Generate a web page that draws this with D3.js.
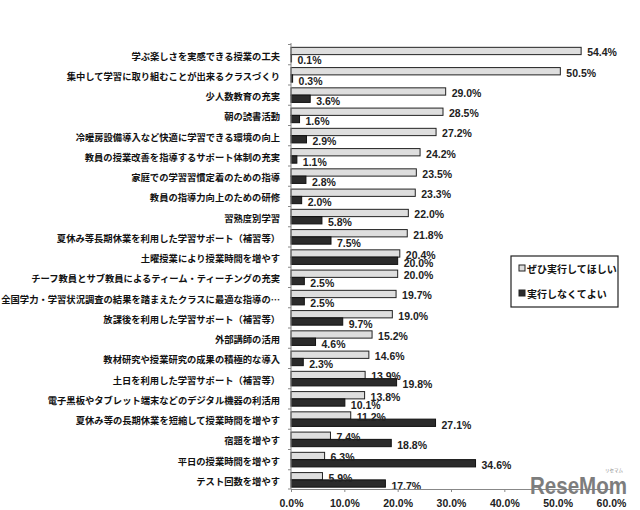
<!DOCTYPE html>
<html><head><meta charset="utf-8">
<script src="https://cdn.jsdelivr.net/npm/d3@7"></script>
<style>
body{margin:0;background:#fff;}
svg{display:block;}
</style></head>
<body>
<script>
const categories = [
  "学ぶ楽しさを実感できる授業の工夫",
  "集中して学習に取り組むことが出来るクラスづくり",
  "少人数教育の充実",
  "朝の読書活動",
  "冷暖房設備導入など快適に学習できる環境の向上",
  "教員の授業改善を指導するサポート体制の充実",
  "家庭での学習習慣定着のための指導",
  "教員の指導力向上のための研修",
  "習熟度別学習",
  "夏休み等長期休業を利用した学習サポート（補習等）",
  "土曜授業により授業時間を増やす",
  "チーフ教員とサブ教員によるティーム・ティーチングの充実",
  "全国学力・学習状況調査の結果を踏まえたクラスに最適な指導の…",
  "放課後を利用した学習サポート（補習等）",
  "外部講師の活用",
  "教材研究や授業研究の成果の積極的な導入",
  "土日を利用した学習サポート（補習等）",
  "電子黒板やタブレット端末などのデジタル機器の利活用",
  "夏休み等の長期休業を短縮して授業時間を増やす",
  "宿題を増やす",
  "平日の授業時間を増やす",
  "テスト回数を増やす"
];
const wantValues = [54.4,50.5,29.0,28.5,27.2,24.2,23.5,23.3,22.0,21.8,20.4,20.0,19.7,19.0,15.2,14.6,13.9,13.8,11.2,7.4,6.3,5.9];
const notNeededValues = [0.1,0.3,3.6,1.6,2.9,1.1,2.8,2.0,5.8,7.5,20.0,2.5,2.5,9.7,4.6,2.3,19.8,10.1,27.1,18.8,34.6,17.7];
const seriesNames = ["ぜひ実行してほしい","実行しなくてよい"];
const xTicks = [0,10,20,30,40,50,60];

const W = 640, H = 510;
const svg = d3.select("body").append("svg").attr("width", W).attr("height", H);

const x = d3.scaleLinear().domain([0,60]).range([291,611]);
const y = d3.scaleBand().domain(categories).range([44.5,490]).paddingInner(0.28).paddingOuter(0.14);
const bw = y.bandwidth();
const step = y.step();

const jp = "'Noto Sans CJK JP', 'Noto Sans', sans-serif";
const num = "'Liberation Sans', Arial, sans-serif";

// category labels
svg.append("g").selectAll("text").data(categories).join("text")
  .attr("x", 280).attr("y", d => y(d) + bw/2 + 1)
  .attr("text-anchor","end").attr("dominant-baseline","central")
  .attr("font-family", jp).attr("font-size", 9.3).attr("font-weight", 700)
  .attr("fill","#111").text(d => d);

// bars
const rows = categories.map((c,i) => ({c, a: wantValues[i], b: notNeededValues[i]}));
const g = svg.append("g");
g.selectAll("rect.a").data(rows).join("rect").attr("class","a")
  .attr("x", x(0)).attr("y", d => y(d.c)).attr("width", d => x(d.a)-x(0)).attr("height", bw/2)
  .attr("fill","#dedede").attr("stroke","#222").attr("stroke-width",1);
g.selectAll("rect.b").data(rows).join("rect").attr("class","b")
  .attr("x", x(0)).attr("y", d => y(d.c)+bw/2).attr("width", d => x(d.b)-x(0)).attr("height", bw/2)
  .attr("fill","#2b2b2b").attr("stroke","#111").attr("stroke-width",1);

// value labels
g.selectAll("text.a").data(rows).join("text").attr("class","a")
  .attr("x", d => x(d.a)+6).attr("y", d => y(d.c)+bw/4+1.5)
  .attr("dominant-baseline","central").attr("font-family",num).attr("font-size",10.5).attr("font-weight",700)
  .attr("fill","#222").text(d => d.a.toFixed(1)+"%");
g.selectAll("text.b").data(rows).join("text").attr("class","b")
  .attr("x", d => x(d.b)+6).attr("y", d => y(d.c)+bw*3/4+2)
  .attr("dominant-baseline","central").attr("font-family",num).attr("font-size",10.5).attr("font-weight",700)
  .attr("fill","#222").text(d => d.b.toFixed(1)+"%");

// y axis line and ticks
const yTop = 43, yBot = 489;
svg.append("line").attr("x1",x(0)).attr("x2",x(0)).attr("y1",yTop).attr("y2",yBot).attr("stroke","#888").attr("stroke-width",1);
const bounds = categories.map(c => y(c) - (step-bw)/2).concat([yBot]);
svg.append("g").selectAll("line").data(bounds).join("line")
  .attr("x1",x(0)-3).attr("x2",x(0)).attr("y1",d=>d).attr("y2",d=>d).attr("stroke","#888");

// x axis
const xAxis = d3.axisBottom(x).tickValues(xTicks).tickSize(3).tickFormat(d => d.toFixed(1)+"%");
const xa = svg.append("g").attr("transform",`translate(0,${yBot})`).call(xAxis);
xa.select(".domain").attr("stroke","#888");
xa.selectAll(".tick line").attr("stroke","#888");
xa.selectAll(".tick text").attr("font-family",num).attr("font-size",10.5).attr("font-weight",700).attr("fill","#222").attr("dy","1.1em");

// legend
const lg = svg.append("g");
lg.append("rect").attr("x",511).attr("y",256).attr("width",107).attr("height",51)
  .attr("fill","#fff").attr("stroke","#222").attr("stroke-width",1.2);
const lgFill = ["#dedede","#2b2b2b"];
seriesNames.forEach((s,i) => {
  const cy = 268 + i*25;
  lg.append("rect").attr("x",519).attr("y",cy-3).attr("width",6).attr("height",6)
    .attr("fill",lgFill[i]).attr("stroke","#222").attr("stroke-width",1);
  lg.append("text").attr("x",527).attr("y",cy).attr("dominant-baseline","central")
    .attr("font-family",jp).attr("font-size",10).attr("font-weight",700).attr("fill","#111").text(s);
});

// watermark
const wm = svg.append("g");
wm.append("text").attr("x",530).attr("y",494).attr("font-family",num).attr("font-size",23).attr("font-weight",700)
  .attr("fill","#7d7d7d").attr("textLength",97).attr("lengthAdjust","spacingAndGlyphs").text("ReseMom");
wm.append("text").attr("x",614).attr("y",472).attr("text-anchor","middle").attr("font-family",jp).attr("font-size",4.5)
  .attr("fill","#888").text("リセマム");
</script>
</body></html>
